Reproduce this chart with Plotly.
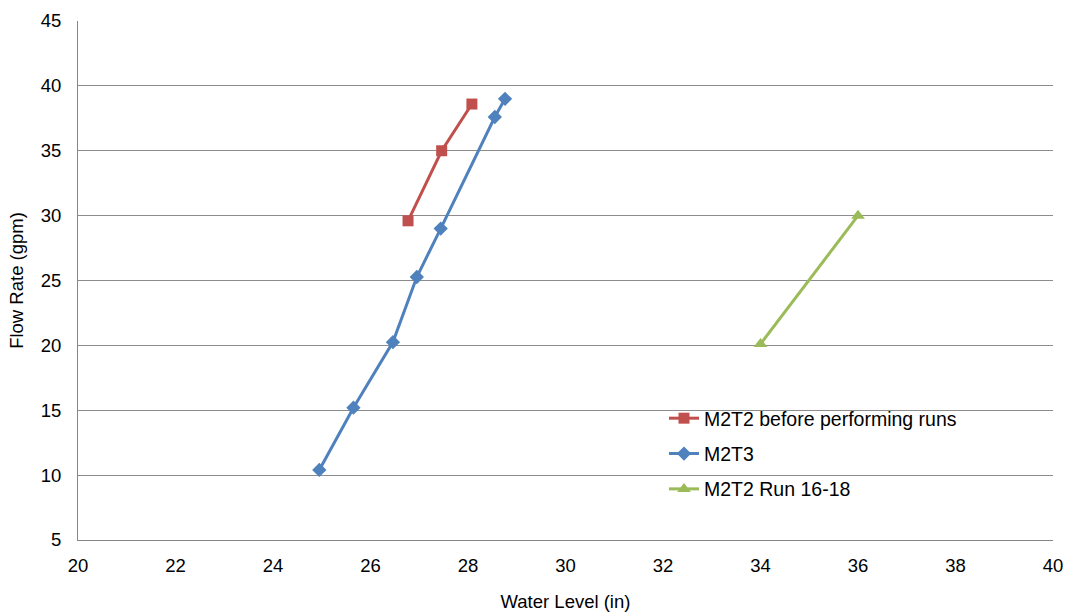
import plotly.graph_objects as go

red_x = [26.77, 27.46, 28.08]
red_y = [29.6, 35.0, 38.6]
blue_x = [24.95, 25.65, 26.46, 26.95, 27.44, 28.55, 28.76]
blue_y = [10.4, 15.2, 20.25, 25.27, 29.0, 37.6, 39.0]
green_x = [34.0, 36.0]
green_y = [20.1, 30.0]

names = ["M2T2 before performing runs", "M2T3", "M2T2 Run 16-18"]
colors = ["#C0504D", "#4F81BD", "#9BBB59"]

fig = go.Figure()
fig.add_trace(go.Scatter(x=red_x, y=red_y, mode="lines+markers", name=names[0],
                         legendgroup="a",
                         line=dict(color=colors[0], width=3),
                         marker=dict(symbol="square", size=11, color=colors[0])))
fig.add_trace(go.Scatter(x=blue_x, y=blue_y, mode="lines+markers", name=names[1],
                         legendgroup="b",
                         line=dict(color=colors[1], width=3),
                         marker=dict(symbol="diamond", size=11, color=colors[1])))
fig.add_trace(go.Scatter(x=green_x, y=green_y, mode="lines+markers", name=names[2],
                         legendgroup="c",
                         line=dict(color=colors[2], width=3),
                         marker=dict(symbol="triangle-up", size=12, color=colors[2])))

PW, PH = 975, 519  # plot area size in px
fig.add_shape(type="rect", xref="paper", yref="paper",
              x0=(587 - 78) / PW, x1=(1037 - 78) / PW,
              y0=(540 - 500) / PH, y1=(540 - 398) / PH,
              fillcolor="white", line=dict(width=0), layer="between")

fig.update_layout(
    width=1065, height=612,
    margin=dict(l=78, r=12, t=21, b=72),
    paper_bgcolor="white", plot_bgcolor="white",
    font=dict(family="Liberation Sans, Arial, sans-serif", size=18.5, color="#000000"),
    xaxis=dict(range=[20, 40], dtick=2, showgrid=False, showline=True,
               linecolor="#868686", linewidth=1, ticks="", zeroline=False,
               automargin=False, ticklabelstandoff=9,
               title=dict(text="Water Level (in)", standoff=22,
                          font=dict(size=18.5))),
    yaxis=dict(range=[5, 45], dtick=5, showgrid=True, gridcolor="#8C8C8C",
               gridwidth=1, showline=True, linecolor="#868686", linewidth=1,
               ticks="", zeroline=False, automargin=False, ticklabelstandoff=12,
               title=dict(text="Flow Rate (gpm)", standoff=12,
                          font=dict(size=18.5))),
    legend=dict(x=(664 - 78) / PW, y=(540 - 399) / PH, xanchor="left", yanchor="top",
                bgcolor="rgba(0,0,0,0)", font=dict(size=19.5),
                traceorder="grouped", tracegroupgap=7,
                itemwidth=30),
    showlegend=True,
)

fig.write_html(
    "out.html",
    config={"displayModeBar": False},
    post_script="document.body.style.margin='0';document.body.style.overflow='hidden';",
)
